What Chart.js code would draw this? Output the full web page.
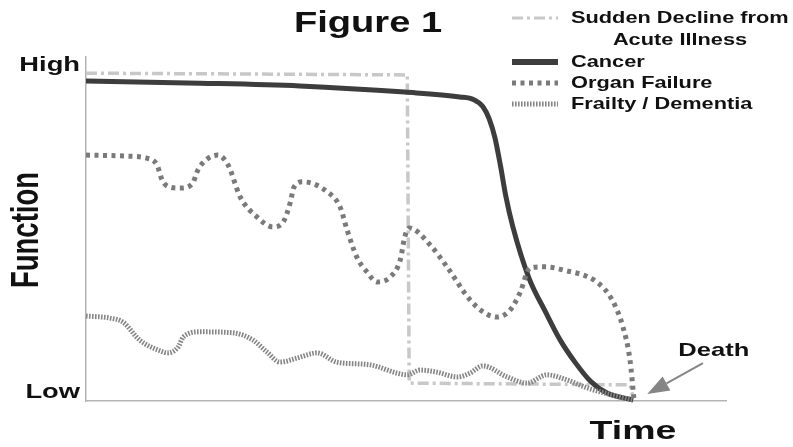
<!DOCTYPE html>
<html>
<head>
<meta charset="utf-8">
<script src="https://cdn.jsdelivr.net/npm/chart.js@4.4.1/dist/chart.umd.min.js"></script>
<style>
  html, body { margin: 0; padding: 0; background: #fff; }
</style>
</head>
<body>
<canvas id="figChart" width="793" height="447"></canvas>
<script>
// Datos (x = tiempo 0..100, y = función 0..100)
const suddenX = [0, 50.2, 50.5, 85.0, 85.5];
const suddenY = [95.3, 94.8, 5.2, 4.7, 0.9];

const cancerX = [0, 17.8, 33.4, 49.8, 58.4, 60.6, 62.0, 63.0, 63.9, 64.8, 65.6, 66.7, 69.2, 71.8, 74.1, 76.4, 78.8, 81.4, 85.5];
const cancerY = [93.0, 92.4, 91.6, 89.8, 88.4, 87.6, 85.6, 82.0, 76.5, 68.0, 59.5, 50.6, 35.8, 25.9, 17.7, 11.3, 5.8, 2.3, 0.3];

const organX = [0, 6.1, 9.5, 11.1, 11.9, 13.1, 14.7, 16.6, 17.5, 18.9, 20.6, 22.2, 24.1, 26.7, 29.2, 30.8, 31.9, 32.5, 33.9, 37.7,
                39.7, 40.8, 42.3, 43.9, 45.5, 47.5, 49.1, 49.8, 50.5, 53.8, 56.4, 60.0, 62.3, 64.2, 66.3, 67.8, 69.4, 71.7, 74.5, 79.8,
                82.2, 83.9, 85.0, 85.6];
const organY = [71.5, 71.2, 70.6, 68.6, 64.2, 62.2, 61.9, 63.1, 67.2, 70.3, 71.5, 68.6, 59.3, 53.5, 50.6, 52.0, 57.6, 62.2, 63.7, 60.8,
                56.4, 49.7, 41.9, 37.5, 34.6, 36.0, 41.0, 47.7, 50.3, 45.3, 39.0, 29.4, 25.6, 24.4, 26.5, 31.4, 38.7, 39.0, 38.1, 34.6,
                29.4, 21.5, 11.9, 0.9];

const frailX = [0, 3.75, 5.8, 8.4, 11.7, 12.8, 14.4, 15.2, 17.8, 23.0, 26.1, 28.3, 30.3, 33.0, 36.1, 39.2, 44.4, 48.6, 50.2, 52.2,
                54.8, 58.0, 60.0, 62.0, 65.8, 68.9, 72.0, 75.2, 78.3, 82.3, 85.5];
const frailY = [24.7, 24.1, 22.9, 17.7, 14.5, 14.0, 15.7, 18.6, 20.1, 19.8, 17.7, 14.2, 11.3, 12.5, 14.0, 11.3, 10.5, 8.1, 7.6, 9.0,
                8.4, 7.0, 8.1, 10.2, 7.0, 5.2, 7.6, 6.1, 3.8, 1.7, 0.3];

// Etiquetas del eje Y
const yTickValues = [2.5, 97.7];
const yTickLabels = ['Low', 'High'];

// Anotación "Death": punta y cola de la flecha
const deathTip = [87.7, 2.0];
const deathTail = [96.4, 11.0];
const deathText = [98.1, 14.5];

const FONT = '"Liberation Sans", Arial, sans-serif';
const TEXT_COLOR = '#111';

// Convierte dos arreglos en puntos {x, y}
function toPoints(xs, ys) {
    return xs.map((x, i) => ({ x: x, y: ys[i] }));
}

// Dibuja texto estirado en horizontal (la figura original está estirada)
function stretchedText(ctx, text, x, y, size, sx, align, rotate) {
    ctx.save();
    ctx.translate(x, y);
    ctx.scale(sx, 1);
    if (rotate) ctx.rotate(rotate);
    ctx.font = 'bold ' + size + 'px ' + FONT;
    ctx.fillStyle = TEXT_COLOR;
    ctx.textAlign = align;
    ctx.textBaseline = 'middle';
    ctx.fillText(text, 0, 0);
    ctx.restore();
}

// Plugin para títulos, etiquetas, leyenda y flecha
const figureDecor = {
    id: 'figureDecor',
    afterDraw(chart) {
        const ctx = chart.ctx;
        const xs = chart.scales.x;
        const ys = chart.scales.y;

        // Título
        stretchedText(ctx, 'Figure 1', 368, 24, 30, 1.27, 'center');

        // Etiquetas High / Low
        yTickValues.forEach((v, i) => {
            stretchedText(ctx, yTickLabels[i], xs.left - 6, ys.getPixelForValue(v), 21, 1.3, 'right');
        });

        // Títulos de ejes
        stretchedText(ctx, 'Function', 27, 230, 27.5, 1.42, 'center', -Math.PI / 2);
        stretchedText(ctx, 'Time', 633, 432, 25, 1.5, 'center');

        // Flecha "Death"
        const tx = xs.getPixelForValue(deathTip[0]), ty = ys.getPixelForValue(deathTip[1]);
        const bx = xs.getPixelForValue(deathTail[0]), by = ys.getPixelForValue(deathTail[1]);
        const len = Math.hypot(tx - bx, ty - by);
        const ux = (tx - bx) / len, uy = (ty - by) / len;
        const hx = tx - ux * 22, hy = ty - uy * 22;
        ctx.save();
        ctx.strokeStyle = '#858585';
        ctx.fillStyle = '#858585';
        ctx.lineWidth = 2;
        ctx.beginPath();
        ctx.moveTo(bx, by);
        ctx.lineTo(hx, hy);
        ctx.stroke();
        ctx.beginPath();
        ctx.moveTo(tx, ty);
        ctx.lineTo(hx - uy * 8, hy + ux * 8);
        ctx.lineTo(hx + uy * 8, hy - ux * 8);
        ctx.closePath();
        ctx.fill();
        ctx.restore();
        stretchedText(ctx, 'Death', xs.getPixelForValue(deathText[0]), ys.getPixelForValue(deathText[1]), 18.5, 1.38, 'center');

        // Leyenda
        const rows = [18, 62, 83, 104];
        chart.data.datasets.forEach((ds, i) => {
            const y = rows[i];
            ctx.save();
            ctx.strokeStyle = ds.borderColor;
            ctx.lineWidth = ds.legendWidth;
            ctx.setLineDash(ds.borderDash || []);
            ctx.beginPath();
            ctx.moveTo(512, y);
            ctx.lineTo(558, y);
            ctx.stroke();
            ctx.restore();
            if (Array.isArray(ds.label)) {
                stretchedText(ctx, ds.label[0], 571, y, 17, 1.28, 'left');
                stretchedText(ctx, ds.label[1], 680, y + 22, 17, 1.28, 'center');
            } else {
                stretchedText(ctx, ds.label, 571, y, 17, 1.28, 'left');
            }
        });
    }
};

const ctx = document.getElementById('figChart').getContext('2d');
const figChart = new Chart(ctx, {
    type: 'line',
    data: {
        datasets: [{
            label: ['Sudden Decline from', 'Acute Illness'],
            data: toPoints(suddenX, suddenY),
            borderColor: '#c8c8c8',
            borderWidth: 3.5,
            legendWidth: 3,
            borderDash: [11, 4, 3, 4],
            tension: 0,
            order: 4
        }, {
            label: 'Cancer',
            data: toPoints(cancerX, cancerY),
            borderColor: '#3d3d3d',
            borderWidth: 5,
            legendWidth: 6,
            cubicInterpolationMode: 'monotone',
            order: 3
        }, {
            label: 'Organ Failure',
            data: toPoints(organX, organY),
            borderColor: '#7a7a7a',
            borderWidth: 5,
            legendWidth: 5,
            borderDash: [4, 4.5],
            cubicInterpolationMode: 'monotone',
            order: 2
        }, {
            label: 'Frailty / Dementia',
            data: toPoints(frailX, frailY),
            borderColor: '#858585',
            borderWidth: 5,
            legendWidth: 5,
            borderDash: [1.6, 1.4],
            cubicInterpolationMode: 'monotone',
            order: 1
        }]
    },
    options: {
        responsive: false,
        animation: false,
        clip: false,
        elements: { point: { radius: 0 } },
        layout: { padding: { top: 57, right: 67, left: 0, bottom: 0 } },
        plugins: {
            legend: { display: false },
            title: { display: false },
            tooltip: { enabled: false }
        },
        scales: {
            x: {
                type: 'linear',
                min: 0,
                max: 100,
                grid: { display: false },
                ticks: { display: false },
                border: { display: true, color: '#b4b4b4', width: 1.5 },
                afterFit: (scale) => { scale.height = 46; }
            },
            y: {
                type: 'linear',
                min: 0,
                max: 100,
                grid: { display: false },
                ticks: { display: false },
                border: { display: true, color: '#b4b4b4', width: 1.5 },
                afterFit: (scale) => { scale.width = 86; }
            }
        }
    },
    plugins: [figureDecor]
});
</script>
</body>
</html>
